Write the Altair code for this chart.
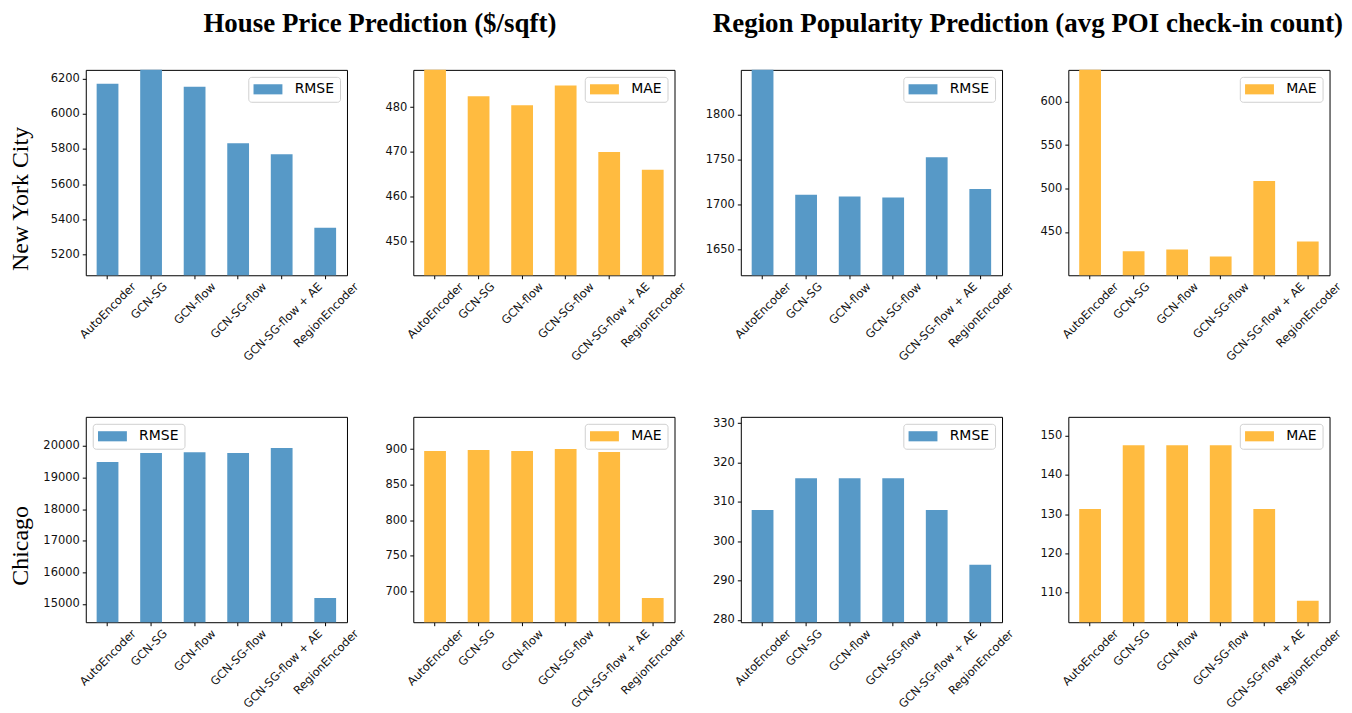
import altair as alt
import pandas as pd

methods = ["AutoEncoder", "GCN-SG", "GCN-flow", "GCN-SG-flow", "GCN-SG-flow + AE", "RegionEncoder"]

nyc_price_rmse = [6172, 6290, 6155, 5832, 5770, 5351]
nyc_price_mae = [492.0, 482.4, 480.4, 484.8, 470.0, 466.0]
nyc_pop_rmse = [1880.0, 1710.7, 1708.8, 1707.6, 1752.6, 1717.3]
nyc_pop_mae = [690.0, 427.8, 429.6, 421.8, 508.6, 438.9]
chi_price_rmse = [19485, 19769, 19800, 19769, 19927, 15190]
chi_price_mae = [897.2, 898.6, 897.2, 900.0, 895.8, 690.6]
chi_pop_rmse = [307.9, 316.0, 316.0, 316.0, 307.9, 294.0]
chi_pop_mae = [131.3, 147.6, 147.6, 147.6, 131.3, 107.8]

dom_nyc_price_rmse = [5080, 6251]
dom_nyc_price_mae = [442.5, 488.3]
dom_nyc_pop_rmse = [1621.3, 1849.6]
dom_nyc_pop_mae = [400.1, 636.5]
dom_chi_price_rmse = [14422, 20916]
dom_chi_price_mae = [656.4, 945.4]
dom_chi_pop_rmse = [279.4, 331.6]
dom_chi_pop_mae = [102.3, 154.9]

ticks_nyc_price_rmse = [5200, 5400, 5600, 5800, 6000, 6200]
ticks_nyc_price_mae = [450, 460, 470, 480]
ticks_nyc_pop_rmse = [1650, 1700, 1750, 1800]
ticks_nyc_pop_mae = [450, 500, 550, 600]
ticks_chi_price_rmse = [15000, 16000, 17000, 18000, 19000, 20000]
ticks_chi_price_mae = [700, 750, 800, 850, 900]
ticks_chi_pop_rmse = [280, 290, 300, 310, 320, 330]
ticks_chi_pop_mae = [110, 120, 130, 140, 150]

BLUE = "#5799C7"
ORANGE = "#FFBB40"
W, H = 262, 206


def panel(vals, metric, color, domain, ticks, row_label=None, title=None,
          legend_orient="top-right", title_dx=0):
    df = pd.DataFrame({"method": methods, "value": vals, "metric": metric})
    if row_label:
        yaxis = alt.Axis(values=ticks, format="d", title=row_label,
                         titleFont="Liberation Serif",
                         titleFontSize=24, titleFontWeight="normal", titleColor="black",
                         titleAngle=270, titleX=-65, titleY=H / 2 + 26,
                         titleAlign="center", titleBaseline="middle")
    else:
        yaxis = alt.Axis(values=ticks, format="d", title=None)
    legend = alt.Legend(title=None, orient=legend_orient, offset=7,
                        symbolType="M-1,-0.7H3V0.7H-1Z", symbolSize=210,
                        symbolStrokeWidth=0, symbolOpacity=1,
                        labelFont="DejaVu Sans", labelFontSize=14, labelColor="black",
                        labelOffset=26.5, padding=5, strokeColor="#d0d0d0",
                        fillColor="white", cornerRadius=3)
    ch = alt.Chart(df).mark_bar(clip=True, opacity=1).encode(
        x=alt.X("method:N", sort=methods, title=None,
                scale=alt.Scale(paddingInner=0.5, paddingOuter=0.25),
                axis=alt.Axis(labelAngle=315, labelAlign="right", labelBaseline="middle",
                              labelOffset={"expr": "length(datum.label) * 2.45"},
                              labelPadding=6, labelOverlap=False, labelFlush=False,
                              labelLimit=0)),
        y=alt.Y("value:Q", scale=alt.Scale(domain=domain, zero=False, nice=False),
                axis=yaxis),
        color=alt.Color("metric:N", scale=alt.Scale(domain=[metric], range=[color]),
                        legend=legend),
    ).properties(width=W, height=H)
    if title:
        ch = ch.properties(title=alt.Title(title, anchor="middle", frame="group", dx=title_dx,
                                           font="Liberation Serif", fontSize=27,
                                           fontWeight="bold", color="black",
                                           baseline="alphabetic", offset=11))
    return ch


p1 = panel(nyc_price_rmse, "RMSE", BLUE, dom_nyc_price_rmse, ticks_nyc_price_rmse,
           row_label="New York City", title="House Price Prediction ($/sqft)", title_dx=164)
p2 = panel(nyc_price_mae, "MAE", ORANGE, dom_nyc_price_mae, ticks_nyc_price_mae)
p3 = panel(nyc_pop_rmse, "RMSE", BLUE, dom_nyc_pop_rmse, ticks_nyc_pop_rmse,
           title="Region Popularity Prediction (avg POI check-in count)", title_dx=157)
p4 = panel(nyc_pop_mae, "MAE", ORANGE, dom_nyc_pop_mae, ticks_nyc_pop_mae)
p5 = panel(chi_price_rmse, "RMSE", BLUE, dom_chi_price_rmse, ticks_chi_price_rmse,
           row_label="Chicago", legend_orient="top-left")
p6 = panel(chi_price_mae, "MAE", ORANGE, dom_chi_price_mae, ticks_chi_price_mae)
p7 = panel(chi_pop_rmse, "RMSE", BLUE, dom_chi_pop_rmse, ticks_chi_pop_rmse)
p8 = panel(chi_pop_mae, "MAE", ORANGE, dom_chi_pop_mae, ticks_chi_pop_mae)

chart = alt.concat(p1, p2, p3, p4, p5, p6, p7, p8, columns=4,
                   spacing={"row": 142, "column": 66.5}, bounds="flush").resolve_scale(
    x="independent", y="independent", color="independent"
).resolve_legend(color="independent").properties(padding=0).configure_view(
    stroke="black", strokeWidth=1
).configure_axis(
    domain=False, grid=False, tickColor="black", tickSize=3.5, tickWidth=1,
    labelFont="DejaVu Sans", labelFontSize=11.5, labelColor="#111111", labelPadding=3
)

chart.save("out.html", embed_options={"renderer": "svg", "actions": False})
